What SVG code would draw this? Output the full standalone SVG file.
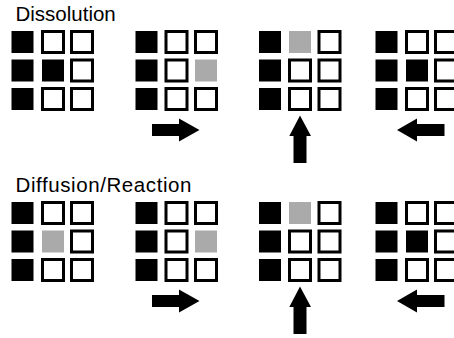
<svg xmlns="http://www.w3.org/2000/svg" width="454" height="338" viewBox="0 0 454 338">
<defs>
<style>
.t{font-family:"Liberation Sans",Arial,sans-serif;font-size:20.5px;fill:#000}
.b{fill:#000}
.g{fill:#aaaaaa}
.o{fill:#fff;stroke:#000;stroke-width:3}
.a{fill:#000}
</style>
<rect id="B" class="b" x="-11" y="-11" width="22" height="22"/>
<rect id="G" class="g" x="-11" y="-11" width="22" height="22"/>
<rect id="O" class="o" x="-10.5" y="-10.5" width="21" height="21"/>
<path id="AR" class="a" d="M152,124 H179 V118.5 L199.5,130 L179,141.5 V136 H152 Z"/>
<path id="AU" class="a" d="M293.5,163 V136 H289.3 L300,115.5 L311,136 H306.5 V163 Z"/>
<path id="AL" class="a" d="M444.5,124 H417 V118.5 L397,130 L417,141.5 V136 H444.5 Z"/>
</defs>
<rect width="454" height="338" fill="#fff"/>
<text class="t" x="15.5" y="21">Dissolution</text>
<text class="t" x="15.5" y="192" textLength="176" lengthAdjust="spacing">Diffusion/Reaction</text>

<g id="top-g1">
<use href="#B" x="22.5" y="42"/><use href="#O" x="53" y="42"/><use href="#O" x="82" y="42"/>
<use href="#B" x="22.5" y="70.5"/><use href="#B" x="53" y="70.5"/><use href="#O" x="82" y="70.5"/>
<use href="#B" x="22.5" y="99"/><use href="#O" x="53" y="99"/><use href="#O" x="82" y="99"/>
</g>
<g id="top-g2">
<use href="#B" x="146.5" y="42"/><use href="#O" x="176.5" y="42"/><use href="#O" x="206" y="42"/>
<use href="#B" x="146.5" y="70.5"/><use href="#O" x="176.5" y="70.5"/><use href="#G" x="206" y="70.5"/>
<use href="#B" x="146.5" y="99"/><use href="#O" x="176.5" y="99"/><use href="#O" x="206" y="99"/>
</g>
<g id="top-g3">
<use href="#B" x="270" y="42"/><use href="#G" x="300" y="42"/><use href="#O" x="329.5" y="42"/>
<use href="#B" x="270" y="70.5"/><use href="#O" x="300" y="70.5"/><use href="#O" x="329.5" y="70.5"/>
<use href="#B" x="270" y="99"/><use href="#O" x="300" y="99"/><use href="#O" x="329.5" y="99"/>
</g>
<g id="top-g4">
<use href="#B" x="386.5" y="42"/><use href="#O" x="417" y="42"/><use href="#O" x="446" y="42"/>
<use href="#B" x="386.5" y="70.5"/><use href="#B" x="417" y="70.5"/><use href="#O" x="446" y="70.5"/>
<use href="#B" x="386.5" y="99"/><use href="#O" x="417" y="99"/><use href="#O" x="446" y="99"/>
</g>

<g id="bot-g1">
<use href="#B" x="22.5" y="213"/><use href="#O" x="53" y="213"/><use href="#O" x="82" y="213"/>
<use href="#B" x="22.5" y="241.5"/><use href="#G" x="53" y="241.5"/><use href="#O" x="82" y="241.5"/>
<use href="#B" x="22.5" y="270"/><use href="#O" x="53" y="270"/><use href="#O" x="82" y="270"/>
</g>
<g id="bot-g2">
<use href="#B" x="146.5" y="213"/><use href="#O" x="176.5" y="213"/><use href="#O" x="206" y="213"/>
<use href="#B" x="146.5" y="241.5"/><use href="#O" x="176.5" y="241.5"/><use href="#G" x="206" y="241.5"/>
<use href="#B" x="146.5" y="270"/><use href="#O" x="176.5" y="270"/><use href="#O" x="206" y="270"/>
</g>
<g id="bot-g3">
<use href="#B" x="270" y="213"/><use href="#G" x="300" y="213"/><use href="#O" x="329.5" y="213"/>
<use href="#B" x="270" y="241.5"/><use href="#O" x="300" y="241.5"/><use href="#O" x="329.5" y="241.5"/>
<use href="#B" x="270" y="270"/><use href="#O" x="300" y="270"/><use href="#O" x="329.5" y="270"/>
</g>
<g id="bot-g4">
<use href="#B" x="386.5" y="213"/><use href="#O" x="417" y="213"/><use href="#O" x="446" y="213"/>
<use href="#B" x="386.5" y="241.5"/><use href="#B" x="417" y="241.5"/><use href="#O" x="446" y="241.5"/>
<use href="#B" x="386.5" y="270"/><use href="#O" x="417" y="270"/><use href="#O" x="446" y="270"/>
</g>

<g id="connectors">
<use href="#AR"/>
<use href="#AU"/>
<use href="#AL"/>
<use href="#AR" y="171"/>
<use href="#AU" y="171"/>
<use href="#AL" y="171"/>
</g>
</svg>
